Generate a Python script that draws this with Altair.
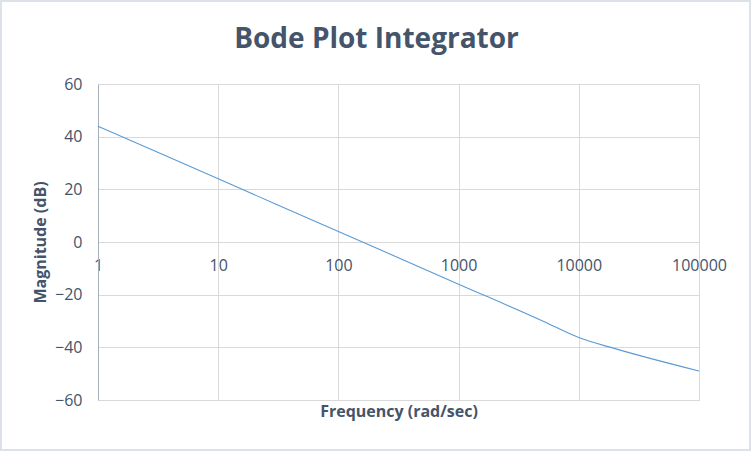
import altair as alt
import pandas as pd

freq = [1, 10, 100, 1000, 5000, 10000, 20000, 100000]
mag_db = [44, 24, 4, -16, -30, -36.3, -40.5, -49]
x_ticks = [1, 10, 100, 1000, 10000, 100000]
y_ticks = [-60, -40, -20, 0, 20, 40, 60]

df = pd.DataFrame({"freq": freq, "mag": mag_db})

TXT = "#44546A"
FONT = "Open Sans"

frame = alt.Chart(df).mark_rect(fillOpacity=0, stroke="#DDE2E8", strokeWidth=2).encode(
    x=alt.value(-97), x2=alt.value(652), y=alt.value(-83), y2=alt.value(366)
)

line = alt.Chart(df).mark_line(color="#5B9BD5", strokeWidth=1.1, interpolate="monotone").encode(
    x=alt.X("freq:Q", scale=alt.Scale(type="log", domain=[1, 100000]),
            axis=alt.Axis(values=x_ticks, format="d", title="Frequency (rad/sec)",
                          offset=-158, domain=False, ticks=False, grid=True,
                          gridColor="#D9D9D9", labelPadding=15, labelFontSize=16,
                          labelColor=TXT, labelFont=FONT, labelFlush=False,
                          titleFont=FONT, titleFontSize=16, titleFontWeight="bold",
                          titleColor=TXT, titleY=161, titleBaseline="top")),
    y=alt.Y("mag:Q", scale=alt.Scale(domain=[-60, 60], nice=False),
            axis=alt.Axis(values=y_ticks, title="Magnitude (dB)", domain=True,
                          domainColor="#A6AEBB", ticks=False, grid=True, gridColor="#D9D9D9",
                          labelPadding=16, labelFontSize=16, labelColor=TXT, labelFont=FONT,
                          titleFont=FONT, titleFontSize=16, titleFontWeight="bold",
                          titleColor=TXT, titleX=-58, titleY=158, titleBaseline="middle")),
)

chart = alt.layer(line, frame).properties(
    width=601, height=316,
    padding={"left": 98, "top": 84, "right": 53, "bottom": 52},
    autosize=alt.AutoSizeParams(type="none"),
    background="white",
    title=alt.TitleParams("Bode Plot Integrator", font=FONT, fontSize=28, fontWeight="bold",
                          color=TXT, anchor="middle", frame="group", dx=-22, offset=0,
                          baseline="alphabetic", dy=76),
).configure_view(stroke=None)

chart.save("out.html", embed_options={"renderer": "svg", "actions": False})
